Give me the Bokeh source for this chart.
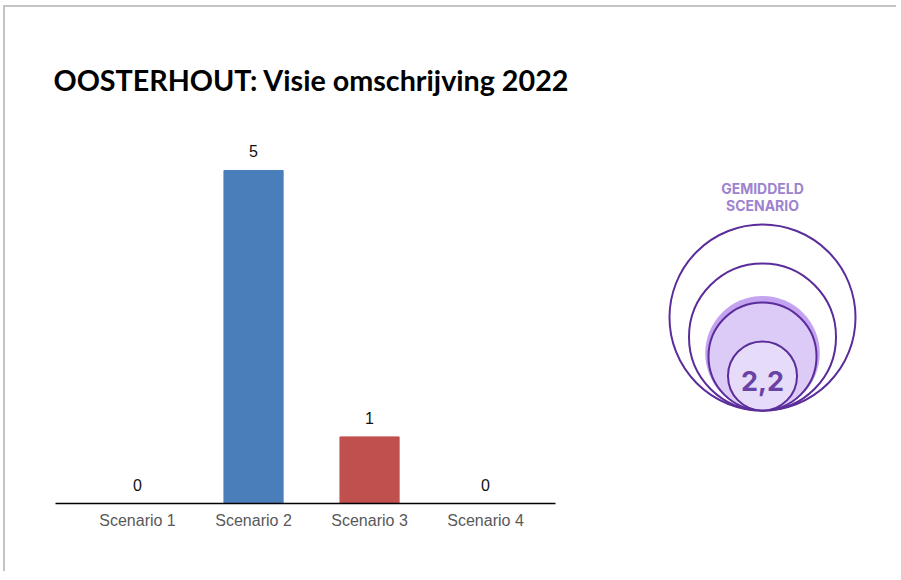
from bokeh.plotting import figure
from bokeh.models import ColumnDataSource, Range1d, FixedTicker
from bokeh.layouts import row
from bokeh.embed import file_html
from bokeh.resources import INLINE
from bokeh.core.properties import value

# ---------------- data ----------------
title_text = "OOSTERHOUT: Visie omschrijving 2022"
categories = ["Scenario 1", "Scenario 2", "Scenario 3", "Scenario 4"]
counts = [0, 5, 1, 0]
bar_colors = ["#4A7EBB", "#4A7EBB", "#C0504D", "#4A7EBB"]
scenario_levels = [1, 2, 3, 4]
badge_lines = ["GEMIDDELD", "SCENARIO"]

average = sum(l * c for l, c in zip(scenario_levels, counts)) / sum(counts)
average_label = f"{average:.1f}".replace(".", ",")

# shared layout borders
B_TOP, B_BOTTOM = 113, 68
FIG_H = 564

# ---------------- bar chart ----------------
xpos = list(range(1, len(categories) + 1))
src = ColumnDataSource(dict(x=xpos, top=counts, color=bar_colors,
                            label=[str(c) for c in counts]))

p = figure(width=600, height=FIG_H, x_range=Range1d(0.293, 4.603),
           y_range=Range1d(0, 5.75), output_backend="svg",
           toolbar_location=None, y_axis_location=None,
           min_border_left=50, min_border_right=50,
           min_border_top=B_TOP, min_border_bottom=B_BOTTOM)
p.vbar(x="x", top="top", width=0.51, color="color", source=src)
p.text(x="x", y="top", text="label", source=src, text_align="center",
       text_baseline="alphabetic", y_offset=-19,
       text_font=value("Liberation Sans"), text_font_size="16px",
       text_color="#111111")

p.xaxis.ticker = FixedTicker(ticks=xpos)
p.xaxis.major_label_overrides = {x: c for x, c in zip(xpos, categories)}
p.xaxis.axis_line_color = "#000000"
p.xaxis.axis_line_width = 1.6
p.xaxis.major_tick_line_color = None
p.xaxis.minor_tick_line_color = None
p.xaxis.major_tick_out = 0
p.xaxis.major_tick_in = 0
p.xaxis.major_label_standoff = 8
p.xaxis.major_label_text_font = "Liberation Sans"
p.xaxis.major_label_text_font_size = "16px"
p.xaxis.major_label_text_color = "#595959"
p.grid.visible = False
p.outline_line_color = None

p.title.text = title_text
p.title.text_font = "Lato"
p.title.text_font_size = "28.7px"
p.title.text_font_style = "bold"
p.title.text_color = "#000000"
p.title.align = "left"
p.title.offset = -2
p.title.standoff = 48

# ---------------- average badge ----------------
ppu = 19.5          # pixels per unit
ring_offset = 0.77  # radius offset
radii = [l + ring_offset for l in scenario_levels]
avg_radius = average + ring_offset
frame_h = FIG_H - B_TOP - B_BOTTOM

q = figure(width=291, height=FIG_H, title=None,
           x_range=Range1d(-157 / ppu, 134 / ppu),
           y_range=Range1d(-(frame_h - 290) / ppu, 290 / ppu),
           output_backend="svg", toolbar_location=None,
           x_axis_location=None, y_axis_location=None,
           min_border_left=0, min_border_right=0,
           min_border_top=B_TOP, min_border_bottom=B_BOTTOM)
q.grid.visible = False
q.outline_line_color = None

line_col = "#5B2D9A"
outer = ColumnDataSource(dict(x=[0, 0], y=[radii[3], radii[2]], r=[radii[3], radii[2]]))
q.circle(x="x", y="y", radius="r", source=outer, fill_color=None,
         line_color=line_col, line_width=2)
q.circle(x=[0], y=[avg_radius], radius=[avg_radius], fill_color="#C4A4F0",
         line_color=None)
q.circle(x=[0], y=[radii[1]], radius=[radii[1]], fill_color="#DCCBF7",
         line_color=line_col, line_width=2)
q.circle(x=[0], y=[radii[0]], radius=[radii[0]], fill_color="#E6DCF9",
         line_color=line_col, line_width=2)

q.text(x=[0], y=[radii[0]], text=[average_label], text_align="center",
       text_baseline="middle", y_offset=5, text_font=value("Inter"),
       text_font_style="bold", text_font_size="27px", text_color="#6A42A6")

top_y = 2 * radii[3]
q.text(x=[0, 0], y=[top_y, top_y], text=badge_lines, text_align="center",
       text_baseline="middle", y_offset=[-36, -19], text_font=value("Inter"),
       text_font_style="bold", text_font_size="14px", text_color="#9D83CF")

layout = row(p, q, margin=(5, 0, 0, 3),
             styles={"border-top": "2px solid #c4c4c4",
                     "border-left": "2px solid #c4c4c4"})

open("out.html", "w").write(file_html(layout, INLINE))
